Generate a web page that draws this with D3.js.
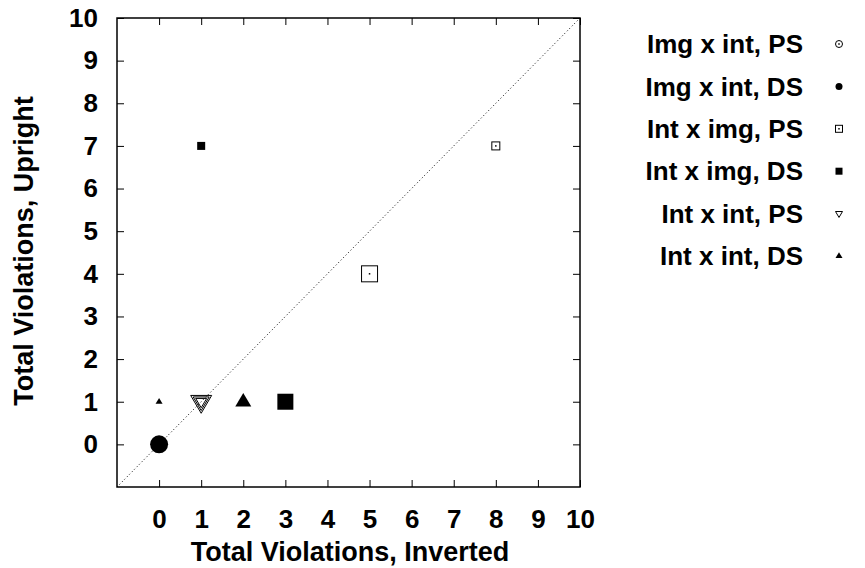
<!DOCTYPE html>
<meta charset="utf-8">
<style>
    body { margin: 0; background: #fff; }
    text { font-family: "Liberation Sans", Arial, sans-serif; font-weight: bold; }
</style>
<svg width="865" height="568"></svg>
<script src="https://d3js.org/d3.v7.min.js"></script>
<script>
    // series names, marker kinds and points (x = inverted, y = upright, s = marker size)
    const seriesNames = ["Img x int, PS", "Img x int, DS", "Int x img, PS", "Int x img, DS", "Int x int, PS", "Int x int, DS"];
    const seriesShapes = ["circleOpen", "circle", "squareOpen", "square", "triDownOpen", "triUp"];
    const imgIntPS = [{x: 0, y: 0, s: 12}];
    const imgIntDS = [{x: 0, y: 0, s: 18}];
    const intImgPS = [{x: 8, y: 7, s: 8}, {x: 5, y: 4, s: 16}];
    const intImgDS = [{x: 1, y: 7, s: 8}, {x: 3, y: 1, s: 16}];
    const intIntPS = [{x: 1, y: 1, s: 21}, {x: 1, y: 1, s: 16}, {x: 1, y: 1, s: 11}];
    const intIntDS = [{x: 0, y: 1, s: 7}, {x: 2, y: 1, s: 16}];
    const allSeries = [imgIntPS, imgIntDS, intImgPS, intImgDS, intIntPS, intIntDS];
    const tickValues = [0, 1, 2, 3, 4, 5, 6, 7, 8, 9, 10];

    var svg = d3.select("svg"),
        margin = {top: 18, right: 285, bottom: 81, left: 117},
        width = 865 - margin.left - margin.right,
        height = 568 - margin.top - margin.bottom,
        g = svg.append("g").attr("transform", "translate(" + margin.left + "," + margin.top + ")");

    let fontSize = 26;
    let x = d3.scaleLinear().domain([-1, 10]).range([0, width]);
    let y = d3.scaleLinear().domain([-1, 10]).range([height, 0]);

    // inward ticks on all four sides
    let tickLen = 7;
    g.append("g").attr("transform", `translate(0,${height})`)
        .call(d3.axisBottom(x).tickValues(tickValues).tickSizeInner(-tickLen).tickSizeOuter(0).tickPadding(23))
        .call(a => a.select(".domain").remove());
    g.append("g")
        .call(d3.axisTop(x).tickValues(tickValues).tickSizeInner(-tickLen).tickSizeOuter(0).tickFormat(""))
        .call(a => a.select(".domain").remove());
    g.append("g")
        .call(d3.axisLeft(y).tickValues(tickValues).tickSizeInner(-tickLen).tickSizeOuter(0).tickPadding(19))
        .call(a => a.select(".domain").remove());
    g.append("g").attr("transform", `translate(${width},0)`)
        .call(d3.axisRight(y).tickValues(tickValues).tickSizeInner(-tickLen).tickSizeOuter(0).tickFormat(""))
        .call(a => a.select(".domain").remove());

    g.selectAll(".tick line").attr("stroke", "#000").attr("stroke-width", 1);
    g.selectAll(".tick text").attr("font-size", fontSize).attr("fill", "#000")
        .style("font-family", '"Liberation Sans", Arial, sans-serif').style("font-weight", "bold");

    // diagonal
    g.append("line")
        .attr("x1", x(-1)).attr("y1", y(-1)).attr("x2", x(10)).attr("y2", y(10))
        .attr("stroke", "#000").attr("stroke-width", 1).attr("stroke-dasharray", "1,2.5");

    g.append("rect").attr("width", width).attr("height", height)
        .attr("fill", "none").attr("stroke", "#000").attr("stroke-width", 1.5);

    function drawMarker(sel, shape, cx, cy, s) {
        let h = s / 2;
        let open = shape.endsWith("Open");
        let fill = open ? "none" : "#000";
        let m;
        if (shape.startsWith("circle")) {
            m = sel.append("circle").attr("cx", cx).attr("cy", cy).attr("r", h);
        } else if (shape.startsWith("square")) {
            m = sel.append("rect").attr("x", cx - h).attr("y", cy - h).attr("width", s).attr("height", s);
        } else if (shape.startsWith("triDown")) {
            m = sel.append("path").attr("d", `M${cx - h},${cy - h * 0.6}L${cx + h},${cy - h * 0.6}L${cx},${cy + h * 1.1}Z`);
        } else {
            m = sel.append("path").attr("d", `M${cx - h},${cy + h * 0.6}L${cx + h},${cy + h * 0.6}L${cx},${cy - h * 1.1}Z`);
        }
        m.attr("fill", fill).attr("stroke", "#000").attr("stroke-width", open ? 1 : 0);
        if (open && !shape.startsWith("tri")) {
            sel.append("rect").attr("x", cx - 0.75).attr("y", cy - 0.75).attr("width", 1.5).attr("height", 1.5).attr("fill", "#000");
        }
    }

    let points = g.append("g");
    allSeries.forEach(function (data, i) {
        data.forEach(function (d) {
            drawMarker(points, seriesShapes[i], x(d.x), y(d.y), d.s);
        });
    });

    // legend
    let legend = svg.append("g");
    seriesNames.forEach(function (name, i) {
        let ly = 44 + i * 42.4;
        legend.append("text")
            .attr("x", 803).attr("y", ly).attr("dy", "0.35em")
            .attr("text-anchor", "end").attr("font-size", fontSize)
            .text(name);
        drawMarker(legend, seriesShapes[i], 839, ly, 7);
    });

    // axis titles
    svg.append("text")
        .attr("x", 350).attr("y", 561)
        .attr("text-anchor", "middle").attr("font-size", 27)
        .text("Total Violations, Inverted");
    svg.append("text")
        .attr("transform", "rotate(-90)")
        .attr("x", -251).attr("y", 33)
        .attr("text-anchor", "middle").attr("font-size", 27)
        .text("Total Violations, Upright");
</script>
